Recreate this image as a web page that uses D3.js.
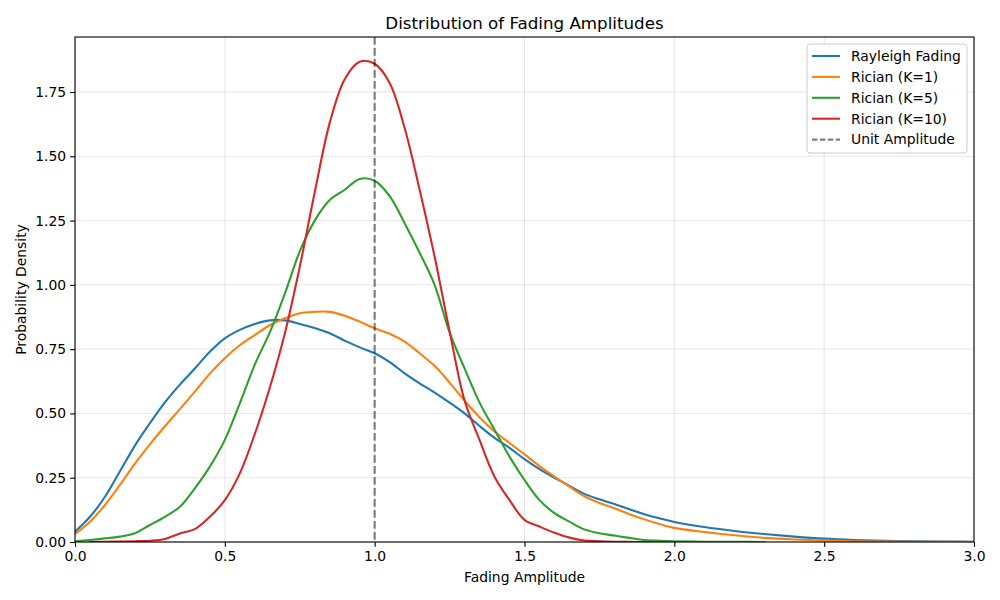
<!DOCTYPE html>
<html>
<head>
<meta charset="utf-8">
<script src="https://cdn.jsdelivr.net/npm/d3@7"></script>
<style>
  body { margin: 0; background: #fff; }
  text { font-family: "DejaVu Sans", sans-serif; }
</style>
</head>
<body>
<div id="chart"></div>
<script>
// amplitude grid (shared by all series)
const xValues = [
  0, 0.05, 0.1, 0.15, 0.2, 0.25, 0.3, 0.35, 0.4, 0.45,
  0.5, 0.55, 0.6, 0.65, 0.7, 0.75, 0.8, 0.85, 0.9, 0.95,
  1.0, 1.05, 1.1, 1.15, 1.2, 1.25, 1.3, 1.35, 1.4, 1.45,
  1.5, 1.55, 1.6, 1.65, 1.7, 1.75, 1.8, 1.85, 1.9, 1.95,
  2.0, 2.1, 2.2, 2.3, 2.4, 2.5, 2.6, 2.7, 2.8, 2.9, 3.0
];

const rayleigh = [
  0.040, 0.098, 0.176, 0.275, 0.375, 0.462, 0.543, 0.612, 0.675, 0.740,
  0.792, 0.825, 0.848, 0.862, 0.862, 0.848, 0.832, 0.812, 0.783, 0.757,
  0.734, 0.700, 0.656, 0.617, 0.581, 0.542, 0.500, 0.451, 0.405, 0.366,
  0.322, 0.283, 0.250, 0.218, 0.187, 0.166, 0.148, 0.127, 0.108, 0.092,
  0.078, 0.058, 0.043, 0.031, 0.021, 0.013, 0.008, 0.005, 0.003, 0.002, 0.001
];

const ricianK1 = [
  0.031, 0.079, 0.144, 0.222, 0.305, 0.380, 0.450, 0.517, 0.585, 0.655,
  0.715, 0.765, 0.805, 0.843, 0.870, 0.890, 0.895, 0.895, 0.880, 0.857,
  0.831, 0.810, 0.779, 0.734, 0.685, 0.620, 0.550, 0.485, 0.430, 0.385,
  0.341, 0.295, 0.254, 0.215, 0.178, 0.152, 0.131, 0.108, 0.088, 0.070,
  0.055, 0.039, 0.026, 0.016, 0.010, 0.006, 0.003, 0.002, 0.001, 0.0005, 0.0003
];

const ricianK5 = [
  0.003, 0.008, 0.014, 0.021, 0.034, 0.066, 0.098, 0.137, 0.209, 0.293,
  0.397, 0.539, 0.690, 0.815, 0.965, 1.130, 1.250, 1.330, 1.370, 1.412,
  1.405, 1.345, 1.240, 1.125, 1.000, 0.815, 0.675, 0.542, 0.437, 0.332,
  0.241, 0.163, 0.112, 0.079, 0.049, 0.034, 0.025, 0.016, 0.008, 0.005,
  0.003, 0.001, 0.0005, 0.0002, null, null, null, null, null, null, null
];

const ricianK10 = [
  null, 0.000, 0.001, 0.002, 0.003, 0.005, 0.012, 0.033, 0.050, 0.098,
  0.163, 0.267, 0.420, 0.600, 0.810, 1.070, 1.360, 1.630, 1.800, 1.868,
  1.860, 1.785, 1.610, 1.370, 1.110, 0.820, 0.550, 0.397, 0.254, 0.163,
  0.086, 0.060, 0.036, 0.017, 0.006, 0.003, 0.001, 0.0005, 0.000, 0.000,
  0.000, null, null, null, null, null, null, null, null, null, null
];

const seriesNames = ["Rayleigh Fading", "Rician (K=1)", "Rician (K=5)", "Rician (K=10)"];
const seriesColors = ["#1f77b4", "#ff7f0e", "#2ca02c", "#d62728"];
const seriesValues = [rayleigh, ricianK1, ricianK5, ricianK10];

const xTicks = [0, 0.5, 1.0, 1.5, 2.0, 2.5, 3.0];
const yTicks = [0, 0.25, 0.5, 0.75, 1.0, 1.25, 1.5, 1.75];
const unitAmplitude = 1.0;

const width = 1000, height = 600;
const margin = { top: 37, right: 26, bottom: 58, left: 75 };
const innerW = width - margin.left - margin.right;
const innerH = height - margin.top - margin.bottom;

const svg = d3.select("#chart").append("svg")
  .attr("width", width)
  .attr("height", height);

const g = svg.append("g")
  .attr("transform", `translate(${margin.left},${margin.top})`);

const x = d3.scaleLinear().domain([0, 3]).range([0, innerW]);
const y = d3.scaleLinear().domain([0, 1.964]).range([innerH, 0]);

// grid
g.append("g").selectAll("line")
  .data(xTicks)
  .join("line")
  .attr("x1", d => x(d)).attr("x2", d => x(d))
  .attr("y1", 0).attr("y2", innerH)
  .attr("stroke", "#b0b0b0").attr("stroke-opacity", 0.3).attr("stroke-width", 1);

g.append("g").selectAll("line")
  .data(yTicks)
  .join("line")
  .attr("x1", 0).attr("x2", innerW)
  .attr("y1", d => y(d)).attr("y2", d => y(d))
  .attr("stroke", "#b0b0b0").attr("stroke-opacity", 0.3).attr("stroke-width", 1);

// curves
const line = d3.line()
  .defined(d => d[1] != null)
  .x(d => x(d[0]))
  .y(d => y(d[1]))
  .curve(d3.curveCatmullRom.alpha(0.5));

svg.append("clipPath").attr("id", "plot-clip")
  .append("rect").attr("width", innerW).attr("height", innerH);

const curves = g.append("g").attr("clip-path", "url(#plot-clip)");

seriesValues.forEach((vals, i) => {
  curves.append("path")
    .datum(xValues.map((xv, j) => [xv, vals[j]]))
    .attr("fill", "none")
    .attr("stroke", seriesColors[i])
    .attr("stroke-width", 2.08)
    .attr("stroke-linejoin", "round")
    .attr("stroke-linecap", "square")
    .attr("d", line);
});

// unit amplitude reference
g.append("line")
  .attr("x1", x(unitAmplitude)).attr("x2", x(unitAmplitude))
  .attr("y1", 0).attr("y2", innerH)
  .attr("stroke", "#000").attr("stroke-opacity", 0.5)
  .attr("stroke-width", 2.08)
  .attr("stroke-dasharray", "7.7,3.3");

// axes
const xAxis = d3.axisBottom(x).tickValues(xTicks).tickFormat(d3.format(".1f"))
  .tickSize(4.86).tickPadding(4);
const yAxis = d3.axisLeft(y).tickValues(yTicks).tickFormat(d3.format(".2f"))
  .tickSize(4.86).tickPadding(4);

const gx = g.append("g").attr("transform", `translate(0,${innerH})`).call(xAxis);
const gy = g.append("g").call(yAxis);
[gx, gy].forEach(a => {
  a.select(".domain").remove();
  a.selectAll("line").attr("stroke", "#000").attr("stroke-width", 1.1);
  a.selectAll("text").attr("fill", "#000").style("font-size", "13.9px")
    .style("font-family", "'DejaVu Sans', sans-serif");
});

// frame
g.append("rect")
  .attr("width", innerW).attr("height", innerH)
  .attr("fill", "none").attr("stroke", "#000").attr("stroke-width", 1.1);

// labels
svg.append("text")
  .attr("x", margin.left + innerW / 2).attr("y", 29)
  .attr("text-anchor", "middle")
  .style("font-size", "16.7px")
  .text("Distribution of Fading Amplitudes");

svg.append("text")
  .attr("x", margin.left + innerW / 2).attr("y", 582)
  .attr("text-anchor", "middle")
  .style("font-size", "13.9px")
  .text("Fading Amplitude");

svg.append("text")
  .attr("transform", `translate(26,${margin.top + innerH / 2}) rotate(-90)`)
  .attr("text-anchor", "middle")
  .style("font-size", "13.9px")
  .text("Probability Density");

// legend
const legendItems = seriesNames.map((n, i) => ({ name: n, color: seriesColors[i], dash: null }))
  .concat([{ name: "Unit Amplitude", color: "#808080", dash: "5.5,2.4" }]);

const legend = svg.append("g").attr("transform", "translate(807,44)");
legend.append("rect")
  .attr("width", 160).attr("height", 109)
  .attr("rx", 3).attr("ry", 3)
  .attr("fill", "#fff").attr("fill-opacity", 0.8)
  .attr("stroke", "#cccccc").attr("stroke-width", 1);

const rows = legend.selectAll("g.row")
  .data(legendItems)
  .join("g")
  .attr("class", "row")
  .attr("transform", (d, i) => `translate(0,${12 + i * 20.9})`);

rows.append("line")
  .attr("x1", 5).attr("x2", 33)
  .attr("stroke", d => d.color)
  .attr("stroke-width", 2.08)
  .attr("stroke-dasharray", d => d.dash);

rows.append("text")
  .attr("x", 44).attr("dy", "0.35em")
  .style("font-size", "13.9px")
  .text(d => d.name);
</script>
</body>
</html>
